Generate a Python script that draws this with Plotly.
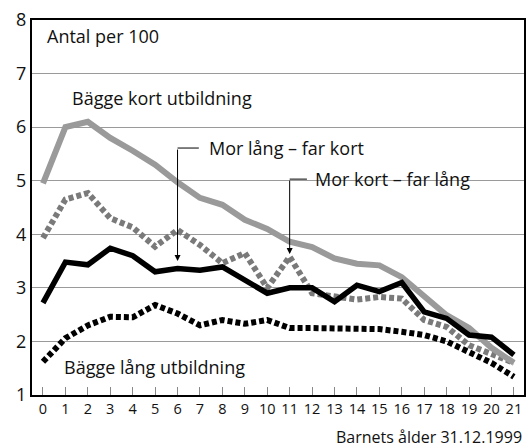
import plotly.graph_objects as go

ages = list(range(22))
tick_labels = [str(a) for a in ages]

bagge_kort = [4.95, 6.0, 6.1, 5.8, 5.56, 5.3, 4.97, 4.68, 4.55, 4.27, 4.1, 3.86, 3.76, 3.55, 3.45, 3.42, 3.2, 2.83, 2.49, 2.25, 1.88, 1.6]
mor_lang_far_kort = [2.72, 3.48, 3.43, 3.74, 3.6, 3.3, 3.36, 3.33, 3.39, 3.15, 2.9, 3.0, 3.0, 2.74, 3.05, 2.93, 3.1, 2.55, 2.43, 2.12, 2.08, 1.75]
mor_kort_far_lang = [3.93, 4.65, 4.77, 4.3, 4.13, 3.77, 4.08, 3.8, 3.46, 3.65, 3.0, 3.58, 2.9, 2.83, 2.78, 2.83, 2.8, 2.4, 2.27, 1.93, 1.75, 1.6]
bagge_lang = [1.62, 2.06, 2.3, 2.46, 2.45, 2.68, 2.52, 2.3, 2.4, 2.33, 2.4, 2.25, 2.25, 2.25, 2.23, 2.23, 2.18, 2.12, 2.0, 1.8, 1.6, 1.34]

FONT = "Open Sans"

fig = go.Figure()
fig.add_trace(go.Scatter(x=ages, y=bagge_lang, mode="lines",
                         line=dict(color="#000000", width=6, dash="5px,3px")))
fig.add_trace(go.Scatter(x=ages, y=mor_kort_far_lang, mode="lines",
                         line=dict(color="#7a7a7a", width=6, dash="5px,3px")))
fig.add_trace(go.Scatter(x=ages, y=bagge_kort, mode="lines",
                         line=dict(color="#9a9a9a", width=6)))
fig.add_trace(go.Scatter(x=ages, y=mor_lang_far_kort, mode="lines",
                         line=dict(color="#000000", width=5.5)))

# connector lines (horizontal parts)
fig.add_shape(type="line", xref="x", yref="y", x0=6, x1=6.95, y0=5.61, y1=5.61,
              line=dict(color="black", width=1))
fig.add_shape(type="line", xref="x", yref="y", x0=11, x1=11.77, y0=5.03, y1=5.03,
              line=dict(color="black", width=1))

annos = [
    dict(x=6, y=3.5, ax=6, ay=5.61),
    dict(x=11, y=3.63, ax=11, ay=5.03),
]
for a in annos:
    fig.add_annotation(x=a["x"], y=a["y"], ax=a["ax"], ay=a["ay"], axref="x", ayref="y",
                       xref="x", yref="y", text="", showarrow=True, arrowhead=2,
                       arrowsize=1.2, arrowwidth=1, arrowcolor="black")

texts = [
    ("Antal per 100", 0.1, 7.7, "left", 18),
    ("Bägge kort utbildning", 1.2, 6.55, "left", 18),
    ("Mor lång – far kort", 7.3, 5.61, "left", 18),
    ("Mor kort – far lång", 12.05, 5.03, "left", 18),
    ("Bägge lång utbildning", 0.85, 1.52, "left", 18),
]
for t, x, y, anc, sz in texts:
    fig.add_annotation(x=x, y=y, xref="x", yref="y", text=t, showarrow=False,
                       xanchor=anc, yanchor="middle", font=dict(size=sz, color="#111111", family=FONT))

fig.add_annotation(x=1, y=0, xref="paper", yref="paper", yshift=-42, text="Barnets ålder 31.12.1999",
                   showarrow=False, xanchor="right", yanchor="middle",
                   font=dict(size=16, color="#111111", family=FONT))

fig.update_layout(
    width=530, height=447,
    margin=dict(l=32, r=4, t=20, b=52),
    paper_bgcolor="white", plot_bgcolor="white",
    showlegend=False,
    font=dict(family=FONT, color="#111111"),
)
fig.update_xaxes(range=[-0.49, 21.45], tickmode="array", tickvals=ages, ticktext=tick_labels,
                 ticks="inside", ticklen=8, tickcolor="#888888", tickwidth=1,
                 showgrid=False, zeroline=False, showline=True, linecolor="black", linewidth=2,
                 mirror=True, tickfont=dict(size=14.5, family=FONT, color="#111111"))
fig.update_yaxes(range=[1, 8], dtick=1, showgrid=True, gridcolor="#9a9a9a", gridwidth=1,
                 zeroline=False, showline=True, linecolor="black", linewidth=2, mirror=True,
                 ticks="", tickfont=dict(size=18, family=FONT, color="#111111"))

fig.write_html("out.html", config={"displayModeBar": False},
               post_script="document.body.style.margin='0';document.body.style.overflow='hidden';")
